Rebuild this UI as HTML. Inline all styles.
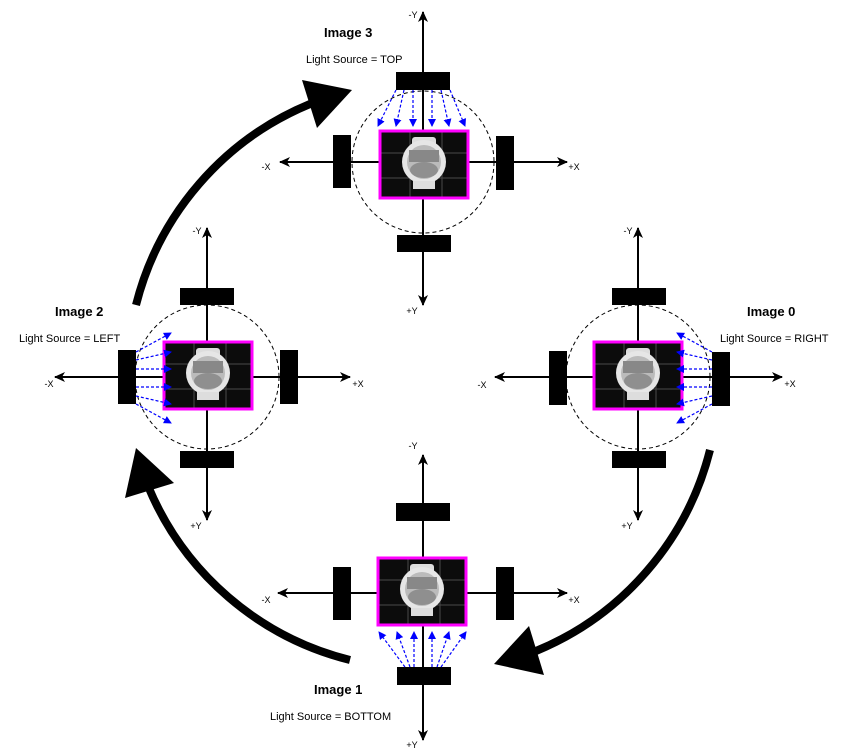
<!DOCTYPE html>
<html><head><meta charset="utf-8"><style>
html,body{margin:0;padding:0;background:#fff;}
svg{display:block;font-family:"Liberation Sans",Arial,sans-serif;}
</style></head><body>
<svg width="855" height="756" viewBox="0 0 855 756" xmlns="http://www.w3.org/2000/svg">
<defs>
<marker id="ax" markerWidth="12" markerHeight="12" refX="10" refY="5" orient="auto" markerUnits="userSpaceOnUse">
<path d="M0,0 L11,5 L0,10 L3,5 z" fill="#000"/></marker>
<marker id="bl" markerWidth="8" markerHeight="8" refX="7" refY="4" orient="auto" markerUnits="userSpaceOnUse">
<path d="M0,0 L8,4 L0,8 z" fill="#00f"/></marker>
<g id="photo">
<rect x="0" y="0" width="88" height="67" fill="#0c0c0c"/>
<g stroke="#4a4a4a" stroke-width="1"><line x1="30" y1="0" x2="30" y2="67"/><line x1="62" y1="0" x2="62" y2="67"/><line x1="0" y1="22" x2="88" y2="22"/><line x1="0" y1="47" x2="88" y2="47"/></g>
<rect x="32" y="6" width="24" height="10" rx="3" fill="#ddd"/>
<circle cx="44" cy="31" r="22" fill="#e6e6e6"/>
<circle cx="44" cy="31" r="17" fill="#bbb"/>
<rect x="29" y="19" width="30" height="12" fill="#888"/>
<ellipse cx="44" cy="39" rx="14" ry="8" fill="#8f8f8f"/>
<rect x="33" y="50" width="22" height="8" fill="#ddd"/>
<rect x="0" y="0" width="88" height="67" fill="none" stroke="#f0f" stroke-width="3"/>
</g>
</defs>

<g fill="none" stroke="#000" stroke-width="8">
<path d="M136 305 A296 296 0 0 1 310 104"/>
<path d="M710 450 A296 296 0 0 1 536 651"/>
<path d="M350 660 A296 296 0 0 1 148 486"/>
</g>
<polygon points="302,80 352,90 317,128" fill="#000"/>
<polygon points="544,675 494,664 529,626" fill="#000"/>
<polygon points="125,498 136,448 174,483" fill="#000"/>

<g fill="none" stroke="#000" stroke-width="2" marker-end="url(#ax)">
<line x1="423" y1="162" x2="423" y2="12"/><line x1="423" y1="162" x2="423" y2="305"/>
<line x1="423" y1="162" x2="280" y2="162"/><line x1="423" y1="162" x2="567" y2="162"/>
<line x1="638" y1="377" x2="638" y2="228"/><line x1="638" y1="377" x2="638" y2="520"/>
<line x1="638" y1="377" x2="495" y2="377"/><line x1="638" y1="377" x2="782" y2="377"/>
<line x1="207" y1="377" x2="207" y2="228"/><line x1="207" y1="377" x2="207" y2="520"/>
<line x1="207" y1="377" x2="55" y2="377"/><line x1="207" y1="377" x2="350" y2="377"/>
<line x1="423" y1="593" x2="423" y2="455"/><line x1="423" y1="593" x2="423" y2="740"/>
<line x1="423" y1="593" x2="278" y2="593"/><line x1="423" y1="593" x2="567" y2="593"/>
</g>

<g fill="none" stroke="#000" stroke-width="1" stroke-dasharray="4,3">
<circle cx="423" cy="162" r="71"/>
<circle cx="638" cy="377" r="72"/>
<circle cx="207" cy="377" r="72"/>
</g>

<g fill="#000">
<rect x="396" y="72" width="54" height="18"/><rect x="397" y="235" width="54" height="17"/>
<rect x="333" y="135" width="18" height="53"/><rect x="496" y="136" width="18" height="54"/>
<rect x="612" y="288" width="54" height="17"/><rect x="612" y="451" width="54" height="17"/>
<rect x="549" y="351" width="18" height="54"/><rect x="712" y="352" width="18" height="54"/>
<rect x="180" y="288" width="54" height="17"/><rect x="180" y="451" width="54" height="17"/>
<rect x="118" y="350" width="18" height="54"/><rect x="280" y="350" width="18" height="54"/>
<rect x="396" y="503" width="54" height="18"/><rect x="397" y="667" width="54" height="18"/>
<rect x="333" y="567" width="18" height="53"/><rect x="496" y="567" width="18" height="53"/>
</g>

<use href="#photo" x="380" y="131"/>
<use href="#photo" x="594" y="342"/>
<use href="#photo" x="164" y="342"/>
<use href="#photo" x="378" y="558"/>

<g stroke="#00f" stroke-width="1.2" stroke-dasharray="3,2" fill="none" marker-end="url(#bl)">
<line x1="396" y1="90" x2="378" y2="126"/><line x1="404" y1="90" x2="396" y2="126"/><line x1="413" y1="90" x2="413" y2="126"/>
<line x1="432" y1="90" x2="432" y2="126"/><line x1="441" y1="90" x2="449" y2="126"/><line x1="450" y1="90" x2="465" y2="126"/>
<line x1="712" y1="352" x2="677" y2="333"/><line x1="712" y1="360" x2="677" y2="352"/><line x1="712" y1="369" x2="677" y2="369"/>
<line x1="712" y1="387" x2="677" y2="387"/><line x1="712" y1="396" x2="677" y2="404"/><line x1="712" y1="404" x2="677" y2="423"/>
<line x1="136" y1="352" x2="171" y2="333"/><line x1="136" y1="360" x2="171" y2="352"/><line x1="136" y1="369" x2="171" y2="369"/>
<line x1="136" y1="387" x2="171" y2="387"/><line x1="136" y1="396" x2="171" y2="404"/><line x1="136" y1="404" x2="171" y2="423"/>
<line x1="405" y1="667" x2="379" y2="632"/><line x1="410" y1="667" x2="397" y2="632"/><line x1="414" y1="667" x2="414" y2="632"/>
<line x1="432" y1="667" x2="432" y2="632"/><line x1="437" y1="667" x2="449" y2="632"/><line x1="441" y1="667" x2="466" y2="632"/>
</g>

<g font-size="13" font-weight="bold" fill="#000">
<text x="324" y="37">Image 3</text>
<text x="55" y="316">Image 2</text>
<text x="747" y="316">Image 0</text>
<text x="314" y="694">Image 1</text>
</g>
<g font-size="11" fill="#000">
<text x="306" y="63">Light Source = TOP</text>
<text x="19" y="342">Light Source = LEFT</text>
<text x="720" y="342">Light Source = RIGHT</text>
<text x="270" y="720">Light Source = BOTTOM</text>
</g>
<g font-size="9" fill="#000" text-anchor="middle">
<text x="413" y="18">-Y</text><text x="412" y="314">+Y</text><text x="266" y="170">-X</text><text x="574" y="170">+X</text>
<text x="628" y="234">-Y</text><text x="627" y="529">+Y</text><text x="482" y="388">-X</text><text x="790" y="387">+X</text>
<text x="197" y="234">-Y</text><text x="196" y="529">+Y</text><text x="49" y="387">-X</text><text x="358" y="387">+X</text>
<text x="413" y="449">-Y</text><text x="412" y="748">+Y</text><text x="266" y="603">-X</text><text x="574" y="603">+X</text>
</g>
</svg>
</body></html>
